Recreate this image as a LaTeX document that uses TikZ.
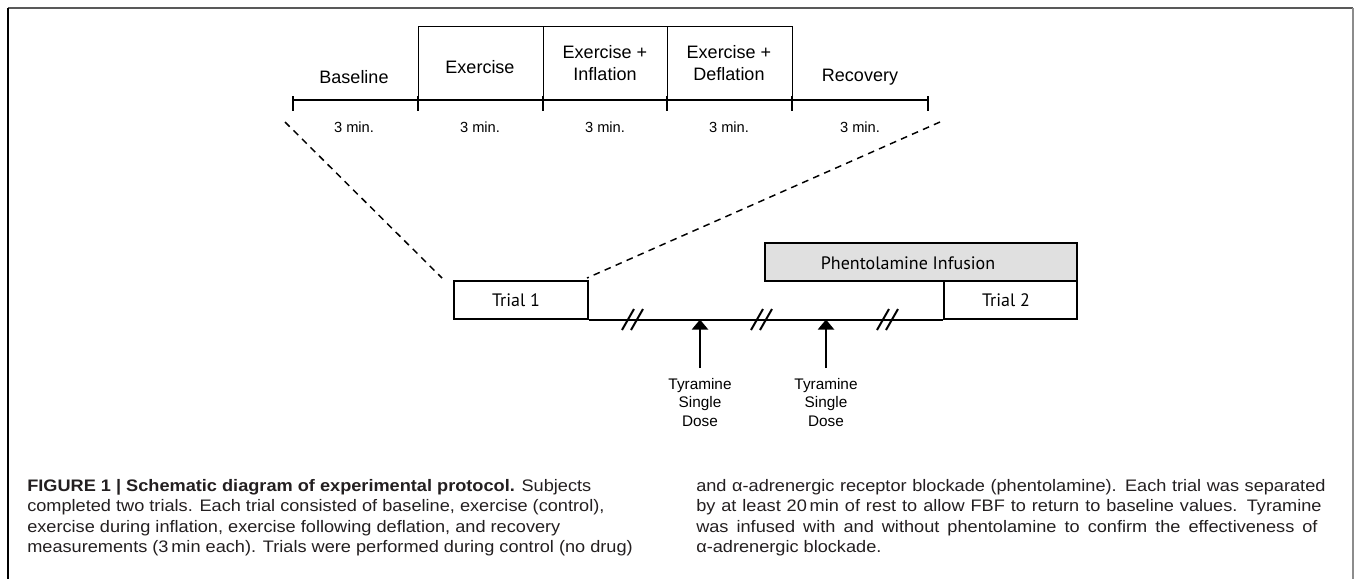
\documentclass[tikz,border=0pt]{standalone}
\usepackage{fontspec}
\setmainfont{Liberation Sans}
\newfontfamily\boxfont{PT Sans}
\newfontfamily\capfont[FakeStretch=1.09]{Liberation Sans}
\usetikzlibrary{arrows.meta,calc}
\definecolor{infill}{RGB}{224,224,224}
\definecolor{captxt}{RGB}{35,31,32}
\begin{document}
\begin{tikzpicture}[x=0.75pt,y=-0.75pt,
  phase/.style={draw=black,line width=1.1pt},
  lbl/.style={font=\fontsize{13.5}{16}\selectfont,align=center,inner sep=0pt},
  dur/.style={font=\fontsize{11}{13}\selectfont,inner sep=0pt},
  trialbox/.style={draw=black,line width=1.5pt,inner sep=0pt},
  boxtext/.style={font=\boxfont\fontsize{13.5}{16}\selectfont,inner sep=0pt},
  dashline/.style={dashed,line width=1.1pt,dash pattern=on 5pt off 4pt},
  tickmark/.style={line width=1.5pt},
  brk/.style={line width=1.5pt},
  dosetext/.style={font=\fontsize{11.5}{13.75}\selectfont,align=center,inner sep=0pt},
  doseArrow/.style={line width=1.5pt,-{Triangle[length=7.5pt,width=12pt]}},
  captext/.style={font=\capfont\fontsize{12.5}{15}\selectfont,text=captxt,anchor=base west,inner sep=0pt}
]
\useasboundingbox (0,0) rectangle (1354,579);
% frame
\draw[line width=1.2pt,black!65] (8,8) -- (1353,8);
\draw[line width=0.8pt,black] (8,8) -- (8,579);
\draw[line width=0.8pt,black!45] (1353,8) -- (1353,579);

% top timeline
\coordinate (t0) at (293,100);
\coordinate (t1) at (418,100);
\coordinate (t2) at (543,100);
\coordinate (t3) at (667,100);
\coordinate (t4) at (792,100);
\coordinate (t5) at (928,100);
\draw[line width=2.2pt] (t0) -- (t5);
\foreach \c in {t0,t1,t2,t3,t4,t5} \draw[tickmark] ($(\c)+(0,-4)$) -- ($(\c)+(0,11)$);

\node[phase,minimum width=125*0.75pt,minimum height=73*0.75pt,anchor=south west] (ex) at (t1) {};
\node[phase,minimum width=124*0.75pt,minimum height=73*0.75pt,anchor=south west] (inf) at (t2) {};
\node[phase,minimum width=125*0.75pt,minimum height=73*0.75pt,anchor=south west] (def) at (t3) {};

\node[lbl] (lbase) at (354,77) {Baseline};
\node[lbl] (lex) at (480,67) {Exercise};
\node[lbl] (linf) at (605,63) {Exercise +\\Inflation};
\node[lbl] (ldef) at (729,63) {Exercise +\\Deflation};
\node[lbl] (lrec) at (860,77) {Recovery};

\node[dur] (d1) at (354,127) {3 min.};
\node[dur] (d2) at (480,127) {3 min.};
\node[dur] (d3) at (605,127) {3 min.};
\node[dur] (d4) at (729,127) {3 min.};
\node[dur] (d5) at (860,127) {3 min.};

% lower timeline
\node[trialbox,minimum width=134*0.75pt,minimum height=37.5*0.75pt,anchor=south west] (trial1) at (453,319.5) {};
\node[boxtext] (tr1txt) at (516,300) {Trial 1};
\node[trialbox,minimum width=133*0.75pt,minimum height=37.5*0.75pt,anchor=south west] (trial2) at (943,319.5) {};
\node[boxtext] (tr2txt) at (1006,300) {Trial 2};
\node[trialbox,fill=infill,minimum width=312*0.75pt,minimum height=38*0.75pt,anchor=south west] (phen) at (764,282) {};
\node[boxtext] (phentxt) at (908,263) {Phentolamine Infusion};

\draw[line width=1.5pt] (trial1.south east) -- (trial2.south west);

\coordinate (dl1) at (285,122);
\coordinate (dr1) at (940,122);
\draw[dashline] (dl1) -- (442,278);
\draw[dashline] (dr1) -- (587,278);

% break marks
\foreach \cx in {633,762,888} {
  \draw[brk] (\cx-11,330) -- (\cx+1,309);
  \draw[brk] (\cx-2,330) -- (\cx+10,309);
}

% tyramine arrows
\coordinate (a1) at (700,319.5);
\coordinate (a2) at (826,319.5);
\node[dosetext,anchor=north] (dose1) at (700,378) {Tyramine\\Single\\Dose};
\node[dosetext,anchor=north] (dose2) at (826,378) {Tyramine\\Single\\Dose};
\draw[doseArrow] (700,368) -- (a1);
\draw[doseArrow] (826,368) -- (a2);

% caption
\node[captext] (c1) at (27,491) {\textbf{FIGURE 1 | Schematic diagram of experimental protocol.} Subjects};
\node[captext] (c2) at (27,511.5) {completed two trials. Each trial consisted of baseline, exercise (control),};
\node[captext] (c3) at (27,532) {exercise during inflation, exercise following deflation, and recovery};
\node[captext] (c4) at (27,552.5) {measurements (3\,min each). Trials were performed during control (no drug)};
\node[captext] (c5) at (696,491) {\makebox[472pt][s]{and α-adrenergic receptor blockade (phentolamine). Each trial was separated}};
\node[captext] (c6) at (696,511.5) {\makebox[469pt][s]{by at least 20\,min of rest to allow FBF to return to baseline values. Tyramine}};
\node[captext] (c7) at (696,532) {\makebox[466pt][s]{was infused with and without phentolamine to confirm the effectiveness of}};
\node[captext] (c8) at (696,552.5) {α-adrenergic blockade.};
\end{tikzpicture}
\end{document}
